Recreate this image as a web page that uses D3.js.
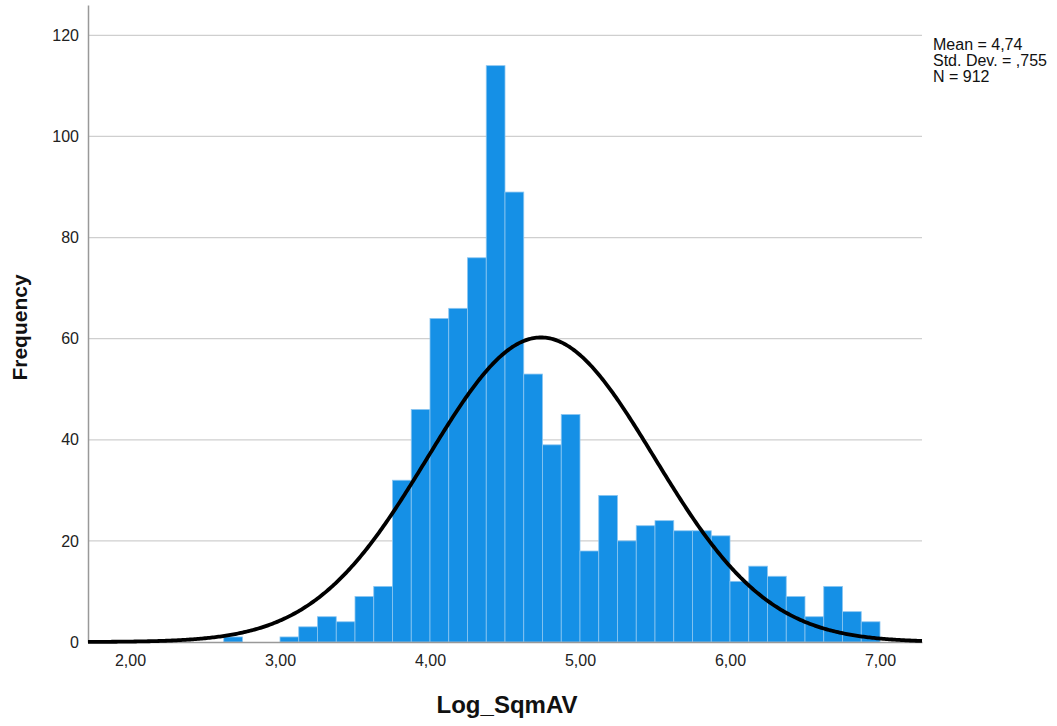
<!DOCTYPE html>
<html>
<head>
<meta charset="utf-8">
<script src="https://cdn.jsdelivr.net/npm/d3@7"></script>
<style>
  body { margin: 0; background: #fff; }
  svg { display: block; font-family: "Liberation Sans", Arial, sans-serif; }
  .axis path { stroke: #999; stroke-width: 1.5; }
  .axis text { fill: #222; font-size: 16px; }
  .grid line { stroke: #cfcfcf; stroke-width: 1.2; }
  .title { font-weight: bold; fill: #111; }
  .stats text { font-size: 16px; fill: #111; }
</style>
</head>
<body>
<div id="chart"></div>
<script>
// Histogram of Log_SqmAV with a normal curve (SPSS style)

// Bin lower edges (width 0.125) and their frequencies
const binWidth = 0.125;
const binStarts = [
  2.625, 3.0, 3.125, 3.25, 3.375, 3.5, 3.625, 3.75, 3.875, 4.0, 4.125, 4.25,
  4.375, 4.5, 4.625, 4.75, 4.875, 5.0, 5.125, 5.25, 5.375, 5.5, 5.625, 5.75,
  5.875, 6.0, 6.125, 6.25, 6.375, 6.5, 6.625, 6.75, 6.875,
];
const frequencies = [
  1, 1, 3, 5, 4, 9, 11, 32, 46, 64, 66, 76,
  114, 89, 53, 39, 45, 18, 29, 20, 23, 24, 22, 22,
  21, 12, 15, 13, 9, 5, 11, 6, 4,
];

// Summary statistics shown in the top right
const mean = 4.74;
const stdDev = 0.755;
const n = 912;
const statLines = ["Mean = 4,74", "Std. Dev. = ,755", "N = 912"];

const xTicks = [2, 3, 4, 5, 6, 7];
const yTicks = [0, 20, 40, 60, 80, 100, 120];
const xDomain = [1.72, 7.28];
const yDomain = [0, 126];
const xTitle = "Log_SqmAV";
const yTitle = "Frequency";

const config = {
  WIDTH: 1057,
  HEIGHT: 726,
  PAD: { top: 5, right: 135, bottom: 84, left: 88 },
  BAR_FILL: "#1590e6",
  BAR_STROKE: "#8cc6f1",
  CURVE_WIDTH: 3.8,
};

const width = config.WIDTH;
const height = config.HEIGHT;
const pad = config.PAD;

// Comma as decimal separator, as in the original
const locale = d3.formatLocale({
  decimal: ",",
  thousands: ".",
  grouping: [3],
  currency: ["", ""],
});
const xFormat = locale.format(".2f");

const x = d3.scaleLinear().domain(xDomain).range([pad.left, width - pad.right]);
const y = d3.scaleLinear().domain(yDomain).range([height - pad.bottom, pad.top]);

const svg = d3
  .select("#chart")
  .append("svg")
  .attr("width", width)
  .attr("height", height);

// Horizontal grid lines (no line at 0, the axis covers it)
svg
  .append("g")
  .attr("class", "grid")
  .selectAll("line")
  .data(yTicks.filter((d) => d > 0))
  .join("line")
  .attr("x1", pad.left)
  .attr("x2", width - pad.right)
  .attr("y1", (d) => y(d))
  .attr("y2", (d) => y(d));

// Bars
const bins = d3.zip(binStarts, frequencies);
svg
  .append("g")
  .selectAll("rect")
  .data(bins)
  .join("rect")
  .attr("x", ([x0]) => x(x0))
  .attr("width", ([x0]) => x(x0 + binWidth) - x(x0))
  .attr("y", ([, f]) => y(f))
  .attr("height", ([, f]) => y(0) - y(f))
  .attr("fill", config.BAR_FILL)
  .attr("stroke", config.BAR_STROKE)
  .attr("stroke-width", 0.8);

// Axes
svg
  .append("g")
  .attr("class", "x axis")
  .attr("transform", `translate(0,${y(0)})`)
  .call(
    d3.axisBottom(x).tickValues(xTicks).tickSize(0).tickSizeOuter(0)
      .tickPadding(13).tickFormat(xFormat),
  );

svg
  .append("g")
  .attr("class", "y axis")
  .attr("transform", `translate(${pad.left},0)`)
  .call(d3.axisLeft(y).tickValues(yTicks).tickSize(0).tickSizeOuter(0).tickPadding(9));

// Normal curve scaled to counts per bin
const density = (v) =>
  (n * binWidth) / (stdDev * Math.sqrt(2 * Math.PI)) *
  Math.exp(-0.5 * ((v - mean) / stdDev) ** 2);

const curve = d3
  .line()
  .x((v) => x(v))
  .y((v) => y(density(v)));

const samples = d3.range(xDomain[0], xDomain[1] + 1e-9, 0.01);
svg
  .append("path")
  .datum(samples)
  .attr("d", curve)
  .attr("fill", "none")
  .attr("stroke", "#000")
  .attr("stroke-width", config.CURVE_WIDTH);

// Axis titles
svg
  .append("text")
  .attr("class", "title")
  .attr("text-anchor", "middle")
  .attr("font-size", 21)
  .attr("transform", `translate(27,${(pad.top + y(0)) / 2 + 4}) rotate(-90)`)
  .text(yTitle);

svg
  .append("text")
  .attr("class", "title")
  .attr("text-anchor", "middle")
  .attr("font-size", 24)
  .attr("x", (pad.left + width - pad.right) / 2 + 2)
  .attr("y", 713)
  .text(xTitle);

// Stats box
svg
  .append("g")
  .attr("class", "stats")
  .selectAll("text")
  .data(statLines)
  .join("text")
  .attr("x", 933)
  .attr("y", (d, i) => 50 + i * 16)
  .text((d) => d);
</script>
</body>
</html>
